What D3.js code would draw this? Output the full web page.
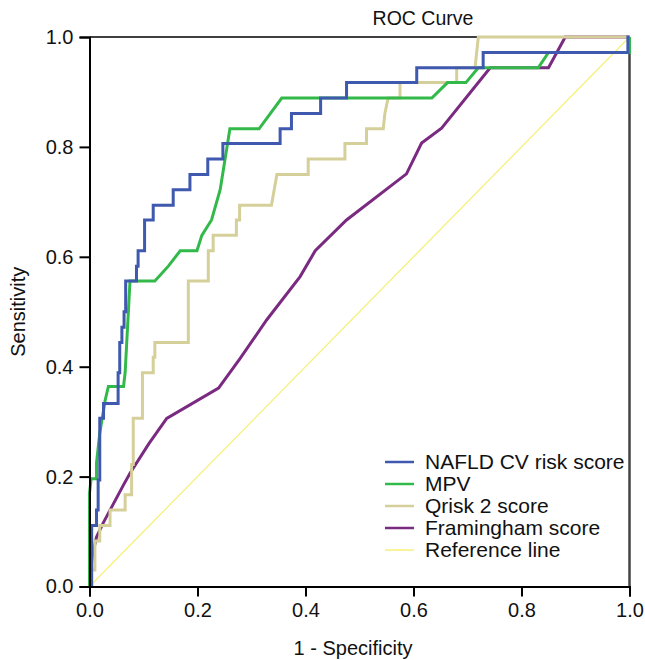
<!DOCTYPE html>
<html>
<head>
<meta charset="utf-8">
<script src="https://cdnjs.cloudflare.com/ajax/libs/d3/7.8.5/d3.min.js"></script>
<style>
  body { margin: 0; background: #fff; }
  svg text { font-family: "Liberation Sans", Arial, Helvetica, sans-serif; fill: #111; }
</style>
</head>
<body>
<div id="chart"></div>
<script>
// ROC coordinates (1 - specificity, sensitivity)
var naflFpr = [0,0.004,0.004,0.013,0.013,0.016,0.016,0.019,0.019,0.026,0.026,0.053,0.053,0.056,0.056,0.060,0.060,0.064,0.064,0.067,0.067,0.087,0.087,0.090,0.090,0.102,0.102,0.118,0.118,0.155,0.155,0.186,0.186,0.219,0.219,0.247,0.247,0.353,0.353,0.374,0.374,0.428,0.428,0.476,0.476,0.606,0.606,0.729,0.729,0.997,0.997,1];
var naflTpr = [0,0,0.111,0.111,0.139,0.139,0.194,0.194,0.306,0.306,0.333,0.333,0.389,0.389,0.444,0.444,0.472,0.472,0.5,0.5,0.556,0.556,0.583,0.583,0.611,0.611,0.667,0.667,0.694,0.694,0.722,0.722,0.75,0.75,0.778,0.778,0.806,0.806,0.833,0.833,0.861,0.861,0.889,0.889,0.917,0.917,0.944,0.944,0.972,0.972,1,1];

var mpvFpr = [0,0,0.003,0.013,0.013,0.019,0.029,0.035,0.063,0.066,0.075,0.121,0.146,0.168,0.199,0.208,0.226,0.242,0.26,0.314,0.356,0.634,0.663,0.697,0.72,0.831,0.85,1,1];
var mpvTpr = [0,0.17,0.196,0.196,0.225,0.279,0.339,0.364,0.364,0.389,0.556,0.556,0.583,0.611,0.611,0.639,0.667,0.722,0.833,0.833,0.889,0.889,0.917,0.917,0.944,0.944,0.972,0.972,1];

var qriskFpr = [0,0.002,0.01,0.01,0.019,0.019,0.038,0.038,0.066,0.066,0.078,0.078,0.081,0.081,0.098,0.098,0.118,0.118,0.121,0.121,0.183,0.183,0.22,0.22,0.229,0.229,0.272,0.272,0.278,0.278,0.337,0.347,0.405,0.405,0.473,0.473,0.513,0.513,0.544,0.547,0.553,0.575,0.575,0.68,0.68,0.714,0.72,1];
var qriskTpr = [0,0.03,0.03,0.083,0.083,0.111,0.111,0.139,0.139,0.167,0.167,0.222,0.222,0.306,0.306,0.389,0.389,0.417,0.417,0.444,0.444,0.556,0.556,0.611,0.611,0.639,0.639,0.667,0.667,0.694,0.694,0.75,0.75,0.778,0.778,0.806,0.806,0.833,0.833,0.861,0.889,0.889,0.917,0.917,0.944,0.944,1,1];

var framFpr = [0,0.002,0.006,0.013,0.025,0.038,0.063,0.075,0.11,0.143,0.239,0.279,0.328,0.39,0.418,0.476,0.587,0.615,0.652,0.742,0.85,0.881,1];
var framTpr = [0,0.03,0.06,0.09,0.115,0.139,0.185,0.206,0.26,0.306,0.361,0.415,0.485,0.564,0.611,0.667,0.751,0.807,0.834,0.944,0.944,1,1];

var refFpr = [0, 1];
var refTpr = [0, 1];

var seriesNames = ["NAFLD CV risk score", "MPV", "Qrisk 2 score", "Framingham score", "Reference line"];
var seriesColors = ["#3f59ae", "#33b94a", "#d5cf99", "#7a2a80", "#f5f07a"];
var seriesWidths = [3, 3, 3, 3, 1.3];
var xTicks = [0, 0.2, 0.4, 0.6, 0.8, 1.0];
var yTicks = [0, 0.2, 0.4, 0.6, 0.8, 1.0];

var W = 645, H = 660;
var margin = {left: 89.5, right: 15.5, top: 37, bottom: 73.5};

var svg = d3.select('#chart')
    .append('svg')
    .attr('width', W)
    .attr('height', H);

var x = d3.scaleLinear().domain([0, 1]).range([margin.left, W - margin.right]);
var y = d3.scaleLinear().domain([0, 1]).range([H - margin.bottom, margin.top]);

function zipPts(xs, ys) {
    return xs.map((d, i) => [d, ys[i]]);
}
var allSeries = [
    zipPts(naflFpr, naflTpr),
    zipPts(mpvFpr, mpvTpr),
    zipPts(qriskFpr, qriskTpr),
    zipPts(framFpr, framTpr),
    zipPts(refFpr, refTpr)
];

var line = d3.line()
    .x(d => x(d[0]))
    .y(d => y(d[1]));

// frame: top and right
svg.append('line')
    .attr('x1', x(0)).attr('x2', x(1))
    .attr('y1', y(1)).attr('y2', y(1))
    .attr('stroke', '#000').attr('stroke-width', 1.5);
svg.append('line')
    .attr('x1', x(1)).attr('x2', x(1))
    .attr('y1', y(1)).attr('y2', y(0))
    .attr('stroke', '#444').attr('stroke-width', 2.5);

// draw in back-to-front order: reference, framingham, qrisk, mpv, nafld
var order = [4, 3, 2, 1, 0];
svg.append('g')
    .selectAll('path')
    .data(order)
    .enter()
    .append('path')
    .attr('d', d => line(allSeries[d]))
    .attr('fill', 'none')
    .attr('stroke', d => seriesColors[d])
    .attr('stroke-width', d => seriesWidths[d])
    .attr('stroke-linejoin', 'miter')
    .attr('stroke-linecap', 'butt');

// axes
var xAxis = svg.append('g')
    .attr('transform', 'translate(0,' + y(0) + ')')
    .call(d3.axisBottom(x).tickValues(xTicks).tickFormat(d3.format('.1f')).tickSizeOuter(0).tickSize(10).tickPadding(6));
var yAxis = svg.append('g')
    .attr('transform', 'translate(' + x(0) + ',0)')
    .call(d3.axisLeft(y).tickValues(yTicks).tickFormat(d3.format('.1f')).tickSizeOuter(0).tickSize(10).tickPadding(6));

[xAxis, yAxis].forEach(function (ax) {
    ax.select('.domain').attr('stroke', '#000').attr('stroke-width', 2);
    ax.selectAll('.tick line').attr('stroke', '#000').attr('stroke-width', 2);
    ax.selectAll('.tick text')
        .attr('fill', '#111')
        .style('font-size', '20px')
        .style('font-family', '"Liberation Sans", Arial, sans-serif');
});

// titles
svg.append('text')
    .attr('x', 423).attr('y', 25)
    .attr('text-anchor', 'middle')
    .style('font-size', '19.5px')
    .text('ROC Curve');

svg.append('text')
    .attr('x', 353).attr('y', 655)
    .attr('text-anchor', 'middle')
    .style('font-size', '20px')
    .text('1 - Specificity');

svg.append('text')
    .attr('transform', 'translate(25,' + (y(0.5)) + ') rotate(-90)')
    .attr('text-anchor', 'middle')
    .style('font-size', '20px')
    .text('Sensitivity');

// legend
var legend = svg.append('g')
    .attr('transform', 'translate(385,462)');
var rowH = 22;
legend.selectAll('line')
    .data(d3.range(seriesNames.length))
    .enter()
    .append('line')
    .attr('x1', 0).attr('x2', 29)
    .attr('y1', d => d * rowH).attr('y2', d => d * rowH)
    .attr('stroke', d => seriesColors[d])
    .attr('stroke-width', d => d < 4 ? 2.5 : 1.5);
legend.selectAll('text')
    .data(d3.range(seriesNames.length))
    .enter()
    .append('text')
    .attr('x', 40)
    .attr('y', d => d * rowH)
    .attr('dy', '0.35em')
    .style('font-size', '21px')
    .text(d => seriesNames[d]);
</script>
</body>
</html>
